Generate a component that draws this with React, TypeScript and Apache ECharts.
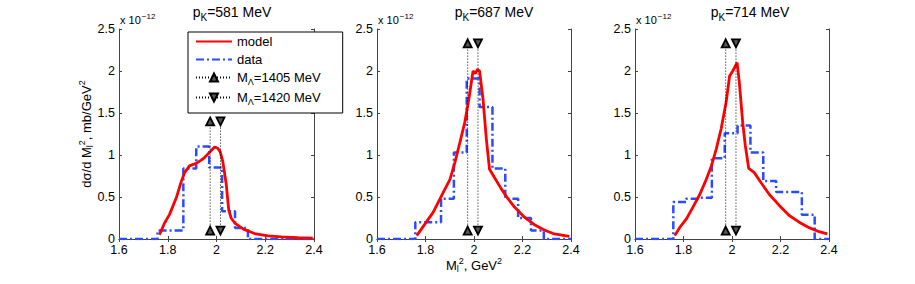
import React, { useEffect, useRef } from "react";
import * as echarts from "echarts";

const FONT = "'Liberation Sans', Arial, Helvetica, sans-serif";

// Panel titles (beam momentum)
const panelMomenta = ["581", "687", "714"];

// Histogram bin edges (GeV^2) and measured data per panel (x 1e-12 mb/GeV^2)
const binEdges = [1.758, 1.811, 1.864, 1.917, 1.970, 2.023, 2.076, 2.129, 2.182, 2.235, 2.288, 2.341];
const data581 = [0.10, 0.10, 0.84, 1.10, 0.85, 0.33, 0.13, 0, 0, 0, 0];
const data687 = [0.20, 0.20, 0.48, 1.03, 1.91, 1.57, 0.84, 0.48, 0.25, 0.10, 0];
const data714 = [0.44, 0.48, 0.49, 0.96, 1.26, 1.35, 1.03, 0.69, 0.56, 0.56, 0.29];

// Model curves [M^2, value]
const model581 = [
  [1.766, 0.05], [1.787, 0.19], [1.807, 0.29], [1.835, 0.49], [1.855, 0.68], [1.869, 0.79],
  [1.889, 0.87], [1.917, 0.90], [1.937, 0.94], [1.951, 0.97], [1.971, 1.03], [1.992, 1.095],
  [2.005, 1.08], [2.015, 1.04], [2.026, 0.92], [2.040, 0.65], [2.050, 0.35], [2.060, 0.25],
  [2.075, 0.19], [2.094, 0.15], [2.115, 0.11], [2.135, 0.09], [2.156, 0.065], [2.211, 0.036],
  [2.265, 0.025], [2.334, 0.015], [2.395, 0.01],
];
const model687 = [
  [1.764, 0.04], [1.798, 0.18], [1.832, 0.32], [1.867, 0.52], [1.901, 0.71], [1.921, 0.91],
  [1.942, 1.15], [1.962, 1.39], [1.979, 1.67], [1.996, 2.0], [2.006, 1.97], [2.014, 2.02],
  [2.023, 2.0], [2.037, 1.67], [2.051, 1.19], [2.064, 0.83], [2.085, 0.73], [2.112, 0.60],
  [2.140, 0.48], [2.167, 0.38], [2.208, 0.26], [2.249, 0.17], [2.290, 0.107], [2.331, 0.06],
  [2.393, 0.03],
];
const model714 = [
  [1.764, 0.04], [1.785, 0.14], [1.812, 0.24], [1.839, 0.38], [1.867, 0.53], [1.894, 0.71],
  [1.915, 0.87], [1.935, 1.07], [1.955, 1.31], [1.976, 1.63], [1.990, 1.94], [2.003, 2.0],
  [2.014, 2.06], [2.021, 2.1], [2.030, 1.87], [2.044, 1.39], [2.055, 1.11], [2.069, 0.84],
  [2.092, 0.79], [2.120, 0.67], [2.154, 0.53], [2.195, 0.40], [2.236, 0.28], [2.277, 0.20],
  [2.318, 0.135], [2.359, 0.087], [2.393, 0.06],
];

// Resonance positions M^2 = (1.405)^2, (1.420)^2
const lambdaM2 = [1.974, 2.0164];
const lambdaNames = ["M\u039B=1405 MeV", "M\u039B=1420 MeV"];
// marker heights (bottom, top) per panel
const markerBottom = [0.1, 0.1, 0.1];
const markerTop = [1.4, 2.33, 2.33];

const X_MIN = 1.6, X_MAX = 2.4, X_INT = 0.2;
const Y_MIN = 0, Y_MAX = 2.5, Y_INT = 0.5;

const gridLefts = [119, 377, 635];
const gridWidths = [195, 194, 194];
const GRID_TOP = 29;
const GRID_H = 210;
const titleCenters = [232, 494, 750];

function stepPoints(edges: number[], vals: number[]) {
  const pts: number[][] = [[X_MIN, 0]];
  for (let i = 0; i < vals.length; i++) pts.push([edges[i], vals[i]]);
  pts.push([edges[edges.length - 1], 0]);
  pts.push([X_MAX, 0]);
  return pts;
}

export default function App() {
  const ref = useRef<HTMLDivElement>(null);
  useEffect(() => {
    if (!ref.current) return;
    const chart = echarts.init(ref.current, undefined, { renderer: "svg" });
    const datas = [data581, data687, data714];
    const models = [model581, model687, model714];
    const axisLine = { show: true, lineStyle: { color: "#444", width: 1 } };
    const tick = { show: true, inside: true, length: 3, lineStyle: { color: "#444" } };
    const grids: any[] = [];
    const xAxes: any[] = [];
    const yAxes: any[] = [];
    const series: any[] = [];
    for (let p = 0; p < 3; p++) {
      grids.push({ left: gridLefts[p], top: GRID_TOP, width: gridWidths[p], height: GRID_H, containLabel: false });
      const baseX = { type: "value", gridIndex: p, min: X_MIN, max: X_MAX, interval: X_INT, splitLine: { show: false }, axisLine, axisTick: tick };
      const baseY = { type: "value", gridIndex: p, min: Y_MIN, max: Y_MAX, interval: Y_INT, splitLine: { show: false }, axisLine, axisTick: tick };
      xAxes.push({
        ...baseX, position: "bottom",
        axisLabel: { show: true, margin: 4, fontSize: 12.5, color: "#000", fontFamily: FONT, showMinLabel: true, showMaxLabel: true,
          formatter: (v: number) => String(+v.toFixed(1)) },
      });
      xAxes.push({ ...baseX, position: "top", axisLabel: { show: false } });
      yAxes.push({
        ...baseY, position: "left",
        axisLabel: { show: true, margin: 4, fontSize: 12.5, color: "#000", fontFamily: FONT, showMinLabel: true, showMaxLabel: true,
          formatter: (v: number) => String(+v.toFixed(1)) },
      });
      yAxes.push({ ...baseY, position: "right", axisLabel: { show: false } });
      const xi = 2 * p, yi = 2 * p;
      series.push({
        name: "data", type: "line", xAxisIndex: xi, yAxisIndex: yi, step: "end",
        data: stepPoints(binEdges, datas[p]), symbol: "none", z: 2,
        lineStyle: { color: "#2a4cff", width: 2.5, type: [8, 3, 2, 3] },
        itemStyle: { color: "#2a4cff" },
      });
      series.push({
        name: "model", type: "line", xAxisIndex: xi, yAxisIndex: yi,
        data: models[p], symbol: "none", z: 3,
        lineStyle: { color: "#ff0000", width: 2.8 }, itemStyle: { color: "#ff0000" },
      });
      for (let k = 0; k < 2; k++) {
        series.push({
          name: lambdaNames[k], type: "line", xAxisIndex: xi, yAxisIndex: yi,
          data: [[lambdaM2[k], markerBottom[p]], [lambdaM2[k], markerTop[p]]],
          symbol: "triangle", symbolSize: 8, symbolRotate: k === 0 ? 0 : 180, showSymbol: true, showAllSymbol: true, z: 4,
          lineStyle: { color: "#000", width: 1, type: [1, 2] },
          itemStyle: { color: "#555", borderColor: "#000", borderWidth: 1.8 },
        });
      }
    }

    const graphics: any[] = [];
    for (let p = 0; p < 3; p++) {
      graphics.push({
        type: "text", x: titleCenters[p], y: 12,
        style: {
          text: "{t|p}{s|K}{t|=" + panelMomenta[p] + " MeV}",
          textAlign: "center", textVerticalAlign: "middle", fill: "#000", font: "14px " + FONT,
          rich: { t: { fontSize: 14, fontFamily: FONT }, s: { fontSize: 10, fontFamily: FONT, padding: [10, 0, 0, 0] } },
        },
      });
      graphics.push({
        type: "text", x: gridLefts[p] + 1, y: 20,
        style: {
          text: "{a|x 10}{b|\u221212}",
          textAlign: "left", textVerticalAlign: "middle", fill: "#000", font: "11px " + FONT,
          rich: { a: { fontSize: 11, fontFamily: FONT }, b: { fontSize: 8, fontFamily: FONT, padding: [0, 0, 8, 1] } },
        },
      });
    }
    const richLbl = {
      t: { fontSize: 13, fontFamily: FONT },
      s: { fontSize: 9, fontFamily: FONT, padding: [8, 0, 0, 0] },
      p: { fontSize: 9, fontFamily: FONT, padding: [0, 0, 8, 0] },
    };
    graphics.push({
      type: "text", x: 474, y: 265,
      style: {
        text: "{t|M}{s|l}{p|2}{t|, GeV}{p|2}",
        textAlign: "center", textVerticalAlign: "middle", fill: "#000", font: "13px " + FONT, rich: richLbl,
      },
    });
    graphics.push({
      type: "text", x: 86, y: 134, rotation: Math.PI / 2,
      style: {
        text: "{t|d\u03C3/d M}{s|l}{p|2}{t|, mb/GeV}{p|2}",
        textAlign: "center", textVerticalAlign: "middle", fill: "#000", font: "13px " + FONT, rich: richLbl,
      },
    });

    chart.setOption({
      animation: false,
      backgroundColor: "#fff",
      grid: grids,
      xAxis: xAxes,
      yAxis: yAxes,
      series,
      legend: {
        data: [
          { name: "model", itemStyle: { opacity: 0 } },
          { name: "data", itemStyle: { opacity: 0 } },
          { name: lambdaNames[0] },
          { name: lambdaNames[1] },
        ],
        orient: "vertical",
        left: 188, top: 32,
        itemWidth: 36, itemHeight: 10, itemGap: 5,
        padding: [3, 22, 7, 7],
        backgroundColor: "#fff",
        borderColor: "#000", borderWidth: 1, borderRadius: 0,
        selectedMode: false,
        z: 10,
        textStyle: {
          fontSize: 13, color: "#000", fontFamily: FONT,
          rich: {
            t: { fontSize: 13, fontFamily: FONT, color: "#000" },
            s: { fontSize: 9, fontFamily: FONT, color: "#000", padding: [8, 0, 0, 0] },
          },
        },
        formatter: (name: string) =>
          name.startsWith("M\u039B") ? "{t|M}{s|\u039B}{t|" + name.slice(2) + "}" : "{t|" + name + "}",
      },
      graphic: graphics,
    });
    return () => chart.dispose();
  }, []);
  return <div ref={ref} style={{ position: "absolute", left: 0, top: 0, width: 915, height: 284 }} />;
}
